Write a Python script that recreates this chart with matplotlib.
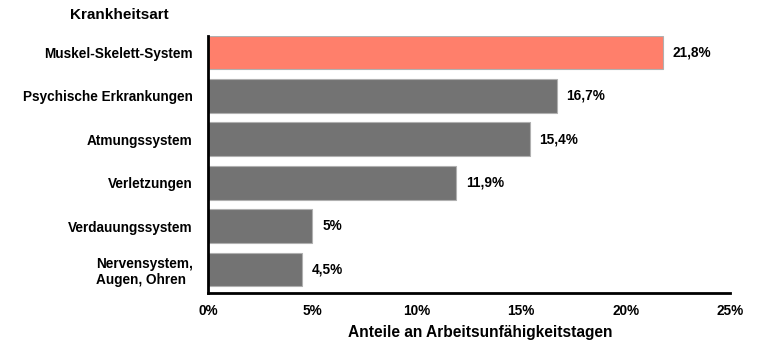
import matplotlib.pyplot as plt
from matplotlib.ticker import FuncFormatter

plt.rcParams['font.family'] = ['Liberation Sans', 'DejaVu Sans']
plt.rcParams['font.weight'] = 'bold'

# Anteile an AU-Tagen nach Krankheitsart
kategorien = ['Muskel-Skelett-System', 'Psychische Erkrankungen', 'Atmungssystem',
              'Verletzungen', 'Verdauungssystem', 'Nervensystem,\nAugen, Ohren']
anteile = [21.8, 16.7, 15.4, 11.9, 5.0, 4.5]
beschriftung = ['21,8%', '16,7%', '15,4%', '11,9%', '5%', '4,5%']
farben = ['#FF7F6B', '#737373', '#737373', '#737373', '#737373', '#737373']

fig = plt.figure(figsize=(7.62, 3.43), dpi=100)
ax = fig.add_axes([0.273, 0.146, 0.685, 0.749])

pos = list(range(len(kategorien)))
ax.barh(pos, anteile, height=0.78, color=farben, edgecolor='#b0b0b0', linewidth=0.8)

for p, w, txt in zip(pos, anteile, beschriftung):
    ax.annotate(txt, (w, p), xytext=(7, 0), textcoords='offset points',
                va='center', ha='left', fontsize=9.8, fontweight='bold')

ax.set_ylim(5.54, -0.38)
ax.set_xlim(0, 25)
ax.set_xticks([0, 5, 10, 15, 20, 25])
ax.xaxis.set_major_formatter(FuncFormatter(lambda v, _: f'{v:.0f}%'))
ax.set_yticks(pos)
ax.set_yticklabels(kategorien)
ax.get_yticklabels()[-1].set_multialignment('left')
ax.tick_params(axis='both', length=0, labelsize=9.8)
ax.tick_params(axis='y', pad=11)
ax.tick_params(axis='x', pad=8)

for s in ['top', 'right']:
    ax.spines[s].set_visible(False)
for s in ['left', 'bottom']:
    ax.spines[s].set_linewidth(2)
    ax.spines[s].set_color('black')

ax.set_xlabel('Anteile an Arbeitsunfähigkeitstagen', fontsize=11.2,
              fontweight='bold')
ax.xaxis.set_label_coords(0.521, -0.125)
fig.text(0.157, 0.955, 'Krankheitsart', ha='center', va='center',
         fontsize=11, fontweight='bold')

fig.savefig('out.png', dpi=100)
